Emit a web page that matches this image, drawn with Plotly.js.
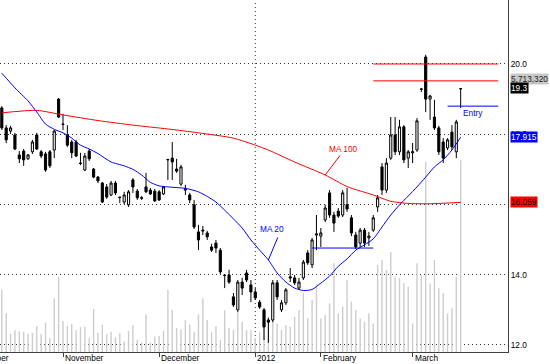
<!DOCTYPE html>
<html>
<head>
<meta charset="utf-8">
<script src="https://cdn.plot.ly/plotly-3.0.1.min.js"></script>
<style>
html,body{margin:0;padding:0;background:#ffffff;}
#chart{width:550px;height:364px;}
</style>
</head>
<body>
<div id="chart"></div>
<script>
// ---- Daily bars (index 0 = first visible trading day, mid-October 2011) ----
const openP = [
  18.75,18.18,18.09,17.98,17.41,17.52,17.30,17.50,17.98,17.50,
  17.44,17.50,17.55,19.00,18.29,17.98,17.78,17.78,17.18,16.98,
  17.52,17.01,16.78,16.61,16.50,16.27,16.61,16.21,16.07,15.99,
  16.70,16.38,16.19,16.50,16.41,16.38,16.36,16.30,17.27,17.32,
  17.01,16.58,16.41,16.27,15.99,15.22,15.27,15.19,14.79,14.90,
  14.70,13.99,13.99,13.37,13.00,13.79,14.05,13.71,13.51,13.22,
  13.00,12.71,12.71,13.77,13.00,13.20,13.94,13.91,13.62,13.91,
  14.62,14.28,15.13,15.10,15.56,16.33,15.70,15.81,15.70,15.99,
  15.62,15.13,14.90,15.27,15.05,15.27,15.93,17.07,16.41,17.32,
  17.98,17.50,18.21,17.32,17.47,17.55,19.29,20.20,19.00,18.49,
  18.18,17.78,17.61,18.06,17.50,19.29
];
const highP = [
  18.80,18.26,18.24,18.04,17.52,17.58,17.44,17.84,18.04,17.55,
  17.50,17.55,18.12,19.03,18.58,18.26,17.84,17.84,17.47,17.47,
  17.58,17.04,16.81,16.64,16.58,16.67,16.67,16.22,16.36,16.41,
  16.75,16.44,16.24,16.90,16.47,16.44,16.41,16.53,17.30,17.78,
  17.30,17.13,16.56,16.33,16.13,15.42,15.39,15.25,14.88,14.99,
  14.76,14.00,14.14,13.48,13.85,13.91,14.14,13.85,13.62,13.28,
  13.05,12.77,13.85,13.85,13.28,13.62,14.19,13.99,13.91,14.42,
  14.70,15.05,15.70,15.33,15.99,16.41,15.79,15.90,16.41,16.47,
  15.70,15.22,15.33,15.33,15.22,15.70,16.27,17.18,17.32,18.49,
  18.49,18.41,18.26,17.55,17.75,18.46,19.32,20.26,19.12,18.98,
  18.24,17.89,17.89,18.26,18.41,19.31
];
const lowP = [
  18.12,17.75,18.01,17.55,17.18,17.10,17.27,17.44,17.55,17.32,
  16.93,17.04,17.32,18.46,18.12,17.64,17.32,17.35,17.12,16.95,
  17.24,16.75,16.61,16.04,16.16,16.24,16.27,16.04,16.01,15.93,
  16.33,16.13,16.13,16.33,16.27,16.07,16.10,16.27,16.70,16.70,
  16.90,16.53,16.27,16.04,15.30,14.70,15.13,14.99,14.65,14.62,
  14.02,13.62,13.74,13.08,12.94,13.42,13.79,13.22,13.28,13.03,
  12.14,12.06,12.65,13.28,12.94,13.14,13.79,13.71,13.57,13.85,
  14.28,14.19,14.70,14.79,15.50,15.62,15.22,15.62,15.64,15.79,
  15.10,14.73,14.79,14.79,14.82,15.22,15.79,16.27,16.33,17.27,
  17.41,17.41,17.18,17.04,17.18,17.50,19.20,18.63,18.41,18.12,
  17.41,17.18,17.55,17.55,17.32,18.75
];
const closeP = [
  18.18,17.84,18.18,17.58,17.30,17.27,17.41,17.78,17.58,17.38,
  16.98,17.10,18.09,18.49,18.28,17.69,17.47,17.38,17.17,17.38,
  17.30,16.78,16.67,16.07,16.21,16.61,16.33,16.20,16.27,16.36,
  16.50,16.19,16.18,16.36,16.30,16.10,16.13,16.50,17.28,17.21,
  16.95,17.07,16.44,16.13,15.36,14.99,15.25,15.08,14.70,14.76,
  14.08,13.98,13.79,13.14,13.79,13.62,13.85,13.51,13.34,13.08,
  12.51,12.65,13.77,13.37,13.20,13.57,13.91,13.77,13.79,14.36,
  14.34,14.99,15.16,15.19,15.90,15.70,15.47,15.67,16.33,15.87,
  15.19,14.79,15.27,14.90,15.10,15.62,16.19,16.41,17.18,17.98,
  17.50,18.21,17.27,17.50,17.50,18.38,19.28,19.00,19.09,18.18,
  17.50,17.32,17.84,17.64,18.35,19.30
];
// volume, millions of shares
const volumeM = [
  1.85,1.15,0.54,0.65,0.62,0.60,0.54,0.57,0.77,0.54,
  0.87,0.41,1.59,2.24,0.92,0.77,0.83,0.65,0.74,0.75,
  0.41,1.28,0.57,0.81,0.53,0.60,0.44,0.56,0.31,0.63,
  0.80,0.36,0.28,1.12,0.28,0.46,0.48,0.63,1.85,1.25,
  0.71,0.68,0.95,0.82,0.60,1.12,1.60,0.95,0.60,0.77,
  0.36,1.24,0.72,0.65,1.18,0.90,0.65,0.65,0.41,0.60,
  0.95,1.05,1.00,0.85,0.65,0.80,0.75,1.05,1.25,1.75,
  1.00,1.55,2.04,1.00,1.10,1.45,2.64,1.15,1.35,2.14,
  1.50,1.25,1.00,0.90,1.15,0.85,2.59,2.74,2.44,2.98,
  2.24,2.20,2.05,1.94,0.85,2.64,2.29,5.66,2.04,2.74,
  1.90,1.75,1.15,1.30,2.24,5.71
];
// moving averages (bar index, value)
const ma20Idx = [0,3,6,8,10,12,14,16,18,20,22,25,28,30,32,34,36,39,42,45,47,49,51,53,55,57,59,61,63,65,67,69,71,73,75,77,79,81,83,85,87,89,91,93,95,97,99,101,103,105];
const ma20Val = [19.74,19.32,18.95,18.63,18.29,18.14,18.04,17.89,17.69,17.58,17.45,17.21,17.10,17.00,16.84,16.63,16.53,16.49,16.46,16.36,16.23,16.07,15.84,15.59,15.33,14.99,14.70,14.42,14.05,13.79,13.62,13.55,13.58,13.76,13.96,14.24,14.45,14.70,14.85,15.02,15.36,15.70,15.99,16.24,16.50,16.78,17.07,17.27,17.55,17.915];
const ma100Idx = [0,8,14,22,30,38,45,53,58,61,67,74,79,85,89,93,98,105];
const ma100Val = [18.61,18.68,18.55,18.39,18.26,18.15,18.04,17.89,17.69,17.55,17.21,16.84,16.51,16.27,16.09,16.03,16.02,16.06];

// axis / annotation data
const monthTickIdx = [14, 36, 58, 73, 94];
const monthLabels = ['November', 'December', '2012', 'February', 'March'];
const prevMonthLabel = 'October';
const priceTicks = [12, 14, 16, 18, 20];
const resistLevels = [20.0, 19.52];
const resistStartIdx = 85;
const entryLevel = 18.80;
const entryStartIdx = 102;
const levelEndIdx = 113.6;
const supportLevel = 14.76;
const supportIdx = [71, 85];
const lastVolumeLabel = '5,713,320';
const lastCloseLabel = '19.3';
const ma20Label = '17.915';
const ma100Label = '16.059';

const idx = openP.map((_, i) => i);
const FONT = 'Liberation Sans, Arial, sans-serif';
const F = {family: FONT, size: 8.3, color: '#000000'};

const traces = [
  {
    type: 'bar', x: idx, y: volumeM, yaxis: 'y', xaxis: 'x',
    marker: {color: '#cdcdcd', line: {width: 0}}, width: 0.32,
    hoverinfo: 'skip', showlegend: false
  },
  {
    type: 'scatter', mode: 'lines', x: ma100Idx, y: ma100Val, yaxis: 'y2',
    line: {color: '#ff0000', width: 1, shape: 'spline', smoothing: 0.6},
    hoverinfo: 'skip', showlegend: false
  },
  {
    type: 'scatter', mode: 'lines', x: ma20Idx, y: ma20Val, yaxis: 'y2',
    line: {color: '#0000ff', width: 1, shape: 'spline', smoothing: 0.6},
    hoverinfo: 'skip', showlegend: false
  },
  {
    type: 'candlestick', x: idx, open: openP, high: highP, low: lowP, close: closeP,
    yaxis: 'y2', xaxis: 'x', whiskerwidth: 0,
    increasing: {line: {color: '#000000', width: 1}, fillcolor: '#ffffff'},
    decreasing: {line: {color: '#000000', width: 1}, fillcolor: '#000000'},
    hoverinfo: 'skip', showlegend: false
  }
];

const shapes = [];
shapes.push({type: 'line', xref: 'x', yref: 'paper', x0: monthTickIdx[2], x1: monthTickIdx[2], y0: 0, y1: 1,
  line: {color: '#333333', width: 1, dash: '1px,3px'}, layer: 'below'});
resistLevels.forEach(v => shapes.push({type: 'line', xref: 'x', yref: 'y2', x0: resistStartIdx, x1: levelEndIdx,
  y0: v, y1: v, line: {color: '#ff0000', width: 1}}));
shapes.push({type: 'line', xref: 'x', yref: 'y2', x0: entryStartIdx, x1: levelEndIdx, y0: entryLevel, y1: entryLevel,
  line: {color: '#0000ff', width: 1}});
shapes.push({type: 'line', xref: 'x', yref: 'y2', x0: supportIdx[0], x1: supportIdx[1], y0: supportLevel, y1: supportLevel,
  line: {color: '#0000ff', width: 1}});

const ann = [];
monthTickIdx.forEach((t, k) => ann.push({
  xref: 'x', yref: 'paper', x: t, y: 0, xanchor: 'left', yanchor: 'top', xshift: 1, yshift: 0,
  text: monthLabels[k], showarrow: false, font: F, borderpad: 0
}));
ann.push({xref: 'x', yref: 'paper', x: 0, y: 0, xanchor: 'right', yanchor: 'top', xshift: 8, yshift: 0,
  text: prevMonthLabel, showarrow: false, font: F, borderpad: 0});

// right-hand value boxes
ann.push({xref: 'paper', yref: 'paper', x: 1, y: 1 - 79 / 352, xanchor: 'left', yanchor: 'middle', xshift: 2,
  text: lastVolumeLabel, showarrow: false, bgcolor: '#c8c8c8', borderpad: 0,
  font: {family: FONT, size: 8.3, color: '#222222'}});
ann.push({xref: 'paper', yref: 'y2', x: 1, y: closeP[closeP.length - 1], xanchor: 'left', yanchor: 'middle', xshift: 2, yshift: 1,
  text: lastCloseLabel, showarrow: false, bgcolor: '#000000', borderpad: 0,
  font: {family: FONT, size: 8.3, color: '#ffffff'}});
ann.push({xref: 'paper', yref: 'y2', x: 1, y: ma20Val[ma20Val.length - 1], xanchor: 'left', yanchor: 'middle', xshift: 2,
  text: ma20Label, showarrow: false, bgcolor: '#0000ff', borderpad: 0,
  font: {family: FONT, size: 8.3, color: '#ffffff'}});
ann.push({xref: 'paper', yref: 'y2', x: 1, y: ma100Val[ma100Val.length - 1], xanchor: 'left', yanchor: 'middle', xshift: 2,
  text: ma100Label, showarrow: false, bgcolor: '#ff0000', borderpad: 0,
  font: {family: FONT, size: 8.3, color: '#000000'}});

// MA labels with leader lines
ann.push({xref: 'x', yref: 'y2', x: 78.3, y: 17.59, text: 'MA 100', showarrow: false,
  font: {family: FONT, size: 8.3, color: '#ff0000'}});
ann.push({xref: 'x', yref: 'y2', x: ma100Idx[11], y: ma100Val[11], text: '', showarrow: true,
  ax: 16, ay: -21, arrowhead: 0, arrowwidth: 1, arrowcolor: '#ff0000'});
ann.push({xref: 'x', yref: 'y2', x: 61.8, y: 15.30, text: 'MA 20', showarrow: false,
  font: {family: FONT, size: 8.3, color: '#0000ff'}});
ann.push({xref: 'x', yref: 'y2', x: ma20Idx[27], y: ma20Val[27], text: '', showarrow: true,
  ax: 10, ay: -24, arrowhead: 0, arrowwidth: 1, arrowcolor: '#0000ff'});
ann.push({xref: 'x', yref: 'y2', x: 107.8, y: entryLevel, yshift: -7, text: 'Entry', showarrow: false,
  font: {family: FONT, size: 8.3, color: '#0000ff'}});

const layout = {
  width: 550, height: 364,
  margin: {l: 0, r: 42, t: 0, b: 12, pad: 0},
  paper_bgcolor: '#ffffff', plot_bgcolor: '#ffffff',
  showlegend: false,
  hovermode: false,
  xaxis: {
    range: [-0.416, 115.83], showgrid: false, zeroline: false,
    showline: true, linecolor: '#404040', linewidth: 1,
    ticks: 'outside', ticklen: 4, tickcolor: '#404040', tickwidth: 1,
    tickvals: monthTickIdx, showticklabels: false,
    rangeslider: {visible: false}, fixedrange: true
  },
  yaxis: {
    range: [0, 10.48], visible: false, showgrid: false, zeroline: false, fixedrange: true
  },
  yaxis2: {
    overlaying: 'y', side: 'right', range: [11.80, 21.822],
    tickvals: priceTicks, tickformat: '.1f', ticks: '',
    showgrid: true, gridcolor: '#333333', gridwidth: 1, griddash: '1px,3px',
    zeroline: false, showline: true, linecolor: '#404040', linewidth: 1,
    tickfont: F, fixedrange: true
  },
  shapes: shapes,
  annotations: ann
};

Plotly.newPlot('chart', traces, layout, {staticPlot: true, displayModeBar: false});
</script>
</body>
</html>
